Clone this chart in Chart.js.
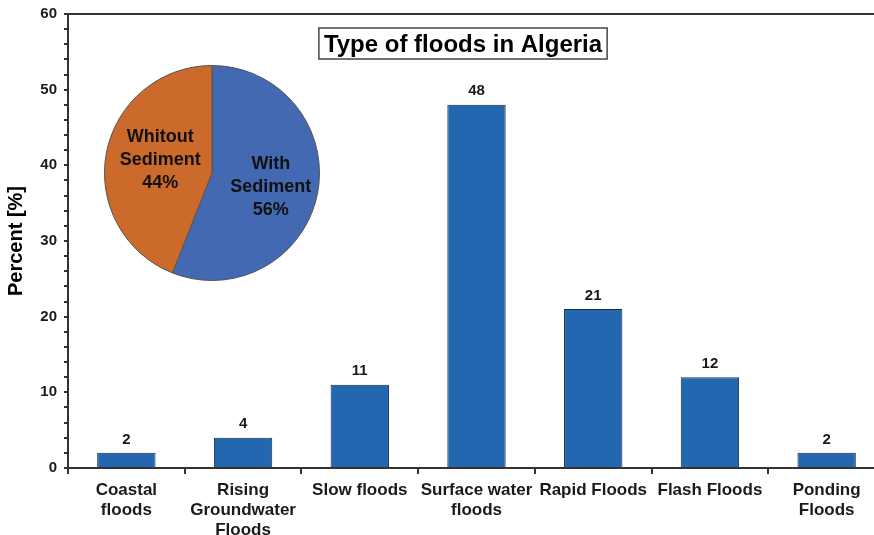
<!DOCTYPE html>
<html>
<head>
<meta charset="utf-8">
<script src="https://cdn.jsdelivr.net/npm/chart.js@4.4.0/dist/chart.umd.min.js"></script>
<style>
  body { margin: 0; background: #fff; }
  #wrap { position: relative; width: 874px; height: 535px; overflow: hidden; }
  #bar { position: absolute; left: 0; top: 0; }
  #pie { position: absolute; left: 104px; top: 65px; }
</style>
</head>
<body>
<div id="wrap">
  <canvas id="bar" width="900" height="535"></canvas>
  <canvas id="pie" width="216" height="216"></canvas>
</div>
<script>
// bar data
const floodTypes = [
  ['Coastal', 'floods'],
  ['Rising', 'Groundwater', 'Floods'],
  'Slow floods',
  ['Surface water', 'floods'],
  'Rapid Floods',
  'Flash Floods',
  ['Ponding', 'Floods']
];
const floodPercent = [2, 4, 11, 48, 21, 12, 2];

// pie data
const sedimentLabels = [['With', 'Sediment', '56%'], ['Whitout', 'Sediment', '44%']];
const sedimentShare = [56, 44];

const FONT = '"Liberation Sans", Arial, sans-serif';
const INK = '#1a1a1a';
const AXIS = '#333';

Chart.defaults.font.family = FONT;
Chart.defaults.color = INK;

// value labels above bars + top frame line + boxed title
const barExtras = {
  id: 'barExtras',
  afterDatasetsDraw(chart) {
    const ctx = chart.ctx;
    const meta = chart.getDatasetMeta(0);
    ctx.save();
    ctx.font = 'bold 15px ' + FONT;
    ctx.fillStyle = INK;
    ctx.textAlign = 'center';
    ctx.textBaseline = 'bottom';
    meta.data.forEach((bar, i) => {
      ctx.fillText(floodPercent[i], bar.x, bar.y - 6);
    });

    // top frame line
    const a = chart.chartArea;
    ctx.strokeStyle = AXIS;
    ctx.lineWidth = 2;
    ctx.beginPath();
    ctx.moveTo(a.left, a.top);
    ctx.lineTo(a.right, a.top);
    ctx.stroke();

    // boxed title
    const title = 'Type of floods in Algeria';
    ctx.font = 'bold 24px ' + FONT;
    const w = ctx.measureText(title).width;
    const cx = 463, cy = 44;
    ctx.fillStyle = '#fff';
    ctx.fillRect(cx - w / 2 - 5, cy - 16, w + 10, 31);
    ctx.strokeStyle = '#444';
    ctx.lineWidth = 1.5;
    ctx.strokeRect(cx - w / 2 - 5, cy - 16, w + 10, 31);
    ctx.fillStyle = '#000';
    ctx.textBaseline = 'middle';
    ctx.fillText(title, cx, cy + 1);
    ctx.restore();
  }
};

new Chart(document.getElementById('bar'), {
  type: 'bar',
  data: {
    labels: floodTypes,
    datasets: [{
      data: floodPercent,
      backgroundColor: '#2267b0',
      borderColor: '#142c47',
      borderWidth: 1,
      categoryPercentage: 1,
      barPercentage: 0.5
    }]
  },
  options: {
    responsive: false,
    animation: false,
    layout: { padding: { top: 14, right: 15, left: 0, bottom: 0 } },
    plugins: { legend: { display: false }, tooltip: { enabled: false } },
    scales: {
      x: {
        grid: { display: true, drawOnChartArea: false, offset: true, tickLength: 6, color: AXIS, lineWidth: 2 },
        border: { color: AXIS, width: 2 },
        ticks: { font: { size: 17, weight: 'bold', lineHeight: 1.15 }, color: INK, padding: 7, maxRotation: 0, autoSkip: false },
        afterFit: s => { s.height = 67; }
      },
      y: {
        min: 0, max: 60,
        grid: { display: true, drawOnChartArea: false, tickLength: 4, color: AXIS, lineWidth: 2 },
        border: { color: AXIS, width: 2 },
        ticks: {
          stepSize: 2,
          autoSkip: false,
          padding: 7,
          font: { size: 15, weight: 'bold' },
          color: INK,
          callback: v => (v % 10 === 0 ? v : '')
        },
        title: { display: true, text: 'Percent [%]', font: { size: 20, weight: 'bold' }, color: '#000', padding: { top: 4, bottom: 0 } },
        afterFit: s => { s.width = 68; s.paddingTop = 0; s.paddingBottom = 0; }
      }
    }
  },
  plugins: [barExtras]
});

// text inside pie slices
const pieLabels = {
  id: 'pieLabels',
  afterDatasetsDraw(chart) {
    const ctx = chart.ctx;
    const meta = chart.getDatasetMeta(0);
    ctx.save();
    ctx.font = 'bold 18px ' + FONT;
    ctx.fillStyle = '#111';
    ctx.textAlign = 'center';
    ctx.textBaseline = 'middle';
    meta.data.forEach((arc, i) => {
      const p = arc.tooltipPosition();
      const lines = sedimentLabels[i];
      const lh = 23;
      lines.forEach((t, j) => {
        ctx.fillText(t, p.x + (i === 0 ? 6 : 1), p.y + (i === 0 ? 4 : -3) + (j - (lines.length - 1) / 2) * lh);
      });
    });
    ctx.restore();
  }
};

new Chart(document.getElementById('pie'), {
  type: 'pie',
  data: {
    labels: ['With Sediment', 'Whitout Sediment'],
    datasets: [{
      data: sedimentShare,
      backgroundColor: ['#4469b3', '#cc6a2c'],
      borderColor: '#555',
      borderWidth: 1
    }]
  },
  options: {
    responsive: false,
    animation: false,
    layout: { padding: 0 },
    plugins: { legend: { display: false }, tooltip: { enabled: false } }
  },
  plugins: [pieLabels]
});
</script>
</body>
</html>
